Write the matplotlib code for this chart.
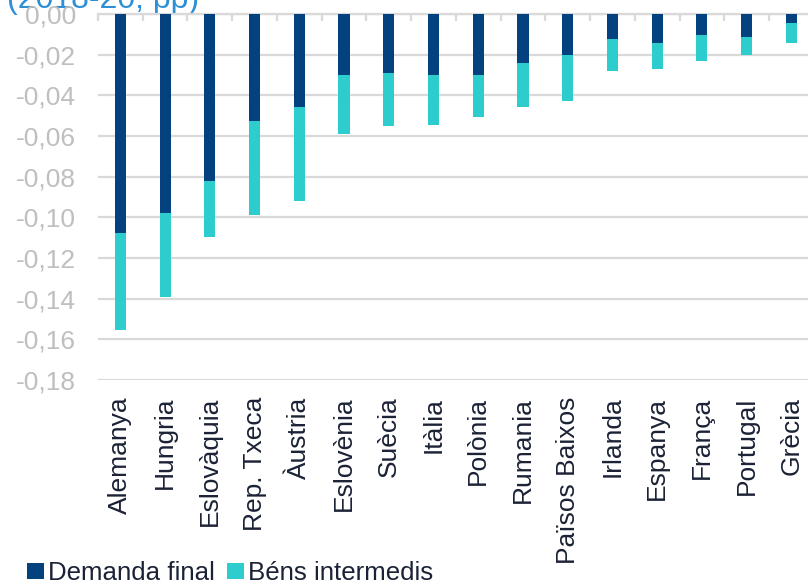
"""Stacked contribution bars by country: final demand vs intermediate goods."""

import matplotlib

matplotlib.use("Agg")
import matplotlib.pyplot as plt
import numpy as np

plt.rcParams["font.family"] = ["Liberation Sans", "DejaVu Sans"]

COUNTRIES = [
    "Alemanya", "Hungria", "Eslovàquia", "Rep. Txeca", "Àustria", "Eslovènia",
    "Suècia", "Itàlia", "Polònia", "Rumania", "Països Baixos", "Irlanda",
    "Espanya", "França", "Portugal", "Grècia",
]
DEMANDA_FINAL = [
    -0.1075, -0.0977, -0.0822, -0.0526, -0.0456, -0.0300, -0.0290, -0.0300,
    -0.0300, -0.0240, -0.0202, -0.0123, -0.0141, -0.0102, -0.0112, -0.0043,
]
BENS_INTERMEDIS = [
    -0.0480, -0.0413, -0.0273, -0.0462, -0.0464, -0.0290, -0.0260, -0.0246,
    -0.0208, -0.0219, -0.0224, -0.0157, -0.0129, -0.0129, -0.0090, -0.0101,
]
Y_TICKS = [0.0, -0.02, -0.04, -0.06, -0.08, -0.10, -0.12, -0.14, -0.16, -0.18]

NAVY = "#03427F"
CYAN = "#2DCCCD"
GRID = "#D9D9D9"
TICK_TXT = "#BFBFBF"
LABEL_TXT = "#1B2236"


def main() -> None:
    fig = plt.figure(figsize=(8.08, 5.85), dpi=100)
    ax = fig.add_axes([98 / 808, 1 - 380 / 585, 715.7 / 808, 366 / 585])
    ax.patch.set_visible(False)

    x = np.arange(len(COUNTRIES))
    w = 0.25
    ax.bar(x, DEMANDA_FINAL, w, color=NAVY, label="Demanda final", zorder=3)
    ax.bar(x, BENS_INTERMEDIS, w, bottom=DEMANDA_FINAL, color=CYAN,
           label="Béns intermedis", zorder=3)

    ax.set_xlim(-0.5, len(COUNTRIES) - 0.5)
    ax.set_ylim(-0.18, 0.0)
    ax.set_yticks(Y_TICKS)
    ax.set_yticklabels([f"{v:.2f}".replace(".", ",") for v in Y_TICKS])
    ax.yaxis.grid(True, color=GRID, linewidth=1.6, zorder=0)
    ax.set_axisbelow(True)

    for side in ("left", "right", "bottom"):
        ax.spines[side].set_visible(False)
    ax.spines["top"].set_color(GRID)
    ax.spines["top"].set_linewidth(1.6)

    ax.set_xticks(x)
    ax.set_xticklabels(COUNTRIES, rotation=90, va="top", ha="center")
    ax.set_xticks(np.arange(len(COUNTRIES) + 1) - 0.5, minor=True)
    ax.tick_params(axis="x", which="major", length=0, pad=12,
                   labelsize=19, labelcolor=LABEL_TXT)
    ax.tick_params(axis="x", which="minor", top=True, bottom=False,
                   direction="in", length=5, width=1.6, color=GRID)
    ax.tick_params(axis="y", length=0, pad=16, labelsize=19,
                   labelcolor=TICK_TXT)

    fig.text(0.009, 1 - 8 / 585, "(2018-20, pp)", fontsize=23,
             color="#2D8FD5", va="baseline", ha="left", zorder=-1)

    fig.legend(loc="lower left", bbox_to_anchor=(27 / 808, 0.0), ncol=2,
               frameon=False, fontsize=18.6, handlelength=0.65,
               handleheight=0.6, handletextpad=0.15, columnspacing=0.5,
               borderpad=0.0, borderaxespad=0.0, labelcolor=LABEL_TXT)

    fig.savefig("out.png", dpi=100)
    plt.close(fig)


if __name__ == "__main__":
    main()
